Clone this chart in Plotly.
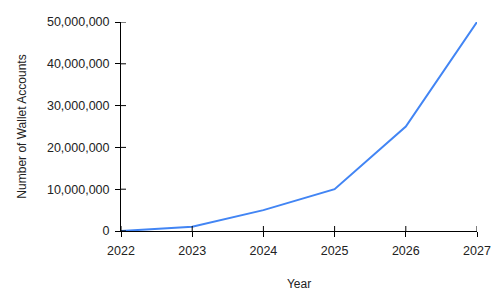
import plotly.graph_objects as go

years = [2022, 2023, 2024, 2025, 2026, 2027]
accounts = [0, 1000000, 5000000, 10000000, 25000000, 50000000]
y_ticks = [0, 10000000, 20000000, 30000000, 40000000, 50000000]
y_tick_text = ["0", "10,000,000", "20,000,000", "30,000,000", "40,000,000", "50,000,000"]

fig = go.Figure()
fig.add_trace(go.Scatter(x=years, y=accounts, mode="lines",
                         line=dict(color="#4285F4", width=2), showlegend=False))

font = dict(family="Liberation Sans, Arial, sans-serif", size=12, color="#222222")

# inside halves of the crossing tick marks
shapes = []
for yr in years:
    shapes.append(dict(type="line", xref="x", yref="y", ysizemode="pixel", yanchor=0,
                       x0=yr, x1=yr, y0=0, y1=5, line=dict(color="black", width=1)))
for v in y_ticks:
    shapes.append(dict(type="line", xref="x", yref="y", xsizemode="pixel", xanchor=years[0],
                       x0=0, x1=5, y0=v, y1=v, line=dict(color="black", width=1)))

fig.update_layout(
    width=493, height=305,
    margin=dict(l=121, r=16, t=22, b=74),
    paper_bgcolor="white", plot_bgcolor="white",
    font=font,
    shapes=shapes,
    xaxis=dict(range=[2022, 2027], tickvals=years, ticktext=[str(y) for y in years],
               showgrid=False, zeroline=False, showline=True, linecolor="black", linewidth=1,
               ticks="outside", ticklen=5, tickcolor="black", tickwidth=1,
               ticklabelstandoff=3, tickfont=dict(size=12.5),
               title=dict(text="Year", standoff=22, font=font), automargin=False),
    yaxis=dict(range=[0, 50000000], tickvals=y_ticks, ticktext=y_tick_text,
               showgrid=False, zeroline=False, showline=True, linecolor="black", linewidth=1,
               ticks="outside", ticklen=5, tickcolor="black", tickwidth=1,
               ticklabelstandoff=3, tickfont=dict(size=12.5),
               title=dict(text="Number of Wallet Accounts", standoff=17, font=font), automargin=False),
)

fig.write_html("out.html")
